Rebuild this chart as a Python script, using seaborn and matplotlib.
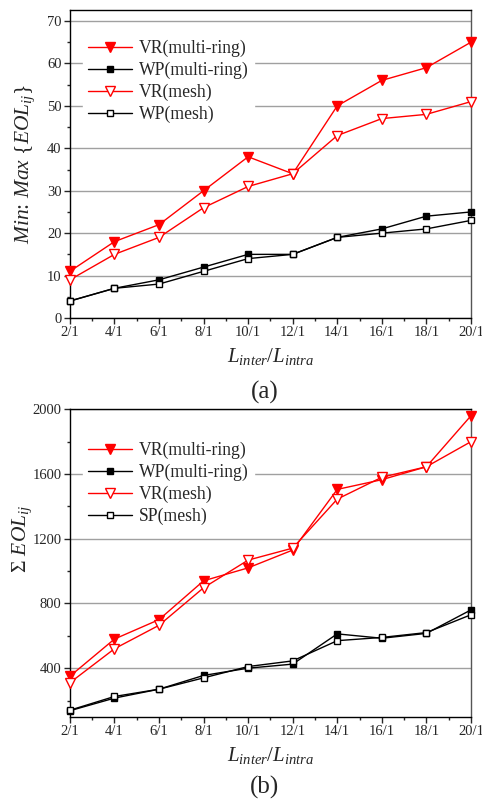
import matplotlib
matplotlib.use('Agg')
import matplotlib.pyplot as plt
import seaborn as sns
import pandas as pd
from matplotlib.ticker import MultipleLocator

sns.set_style('ticks')
plt.rcParams['font.family'] = ['Liberation Serif', 'DejaVu Serif']
plt.rcParams['mathtext.fontset'] = 'custom'
plt.rcParams['mathtext.rm'] = 'Liberation Serif'
plt.rcParams['mathtext.it'] = 'Liberation Serif:italic'

# data
ratio = [2, 4, 6, 8, 10, 12, 14, 16, 18, 20]
tick_labels = ['2/1', '4/1', '6/1', '8/1', '10/1', '12/1', '14/1', '16/1', '18/1', '20/1']

# (a) Min: Max {EOL_ij}
a_vr_ring = [11, 18, 22, 30, 38, 34, 50, 56, 59, 65]
a_wp_ring = [4, 7, 9, 12, 15, 15, 19, 21, 24, 25]
a_vr_mesh = [9, 15, 19, 26, 31, 34, 43, 47, 48, 51]
a_wp_mesh = [4, 7, 8, 11, 14, 15, 19, 20, 21, 23]

# (b) sum EOL_ij
b_vr_ring = [350, 580, 700, 940, 1020, 1130, 1505, 1565, 1645, 1960]
b_wp_ring = [137, 215, 270, 355, 400, 425, 612, 585, 615, 760]
b_vr_mesh = [310, 520, 665, 897, 1068, 1142, 1445, 1580, 1645, 1800]
b_sp_mesh = [140, 225, 270, 340, 410, 445, 570, 590, 620, 730]

styles = [
    dict(color='#ff0000', marker='v', mfc='#ff0000', mec='#ff0000', ms=7),
    dict(color='black', marker='s', mfc='black', mec='black', ms=5),
    dict(color='#ff0000', marker='v', mfc='white', mec='#ff0000', ms=7),
    dict(color='black', marker='s', mfc='white', mec='black', ms=5),
]


def draw(ax, series, names, ylim, major, minor, ylabel, label_xy, legend_y):
    for vals, name, st in zip(series, names, styles):
        df = pd.DataFrame({'x': ratio, 'y': vals})
        sns.lineplot(data=df, x='x', y='y', ax=ax, label=name, color=st['color'],
                     marker=st['marker'], markersize=st['ms'],
                     markerfacecolor=st['mfc'], markeredgecolor=st['mec'],
                     markeredgewidth=1, linewidth=1, clip_on=False, zorder=3)
    ax.set_xlim(2, 20)
    ax.set_ylim(*ylim)
    ax.set_xticks(ratio)
    ax.set_xticklabels(tick_labels)
    ax.xaxis.set_minor_locator(MultipleLocator(1))
    ax.yaxis.set_major_locator(MultipleLocator(major))
    ax.yaxis.set_minor_locator(MultipleLocator(minor))
    ax.tick_params(axis='both', which='major', direction='out', length=4, width=1,
                   labelsize=10.5, pad=2)
    ax.tick_params(axis='both', which='minor', direction='out', length=2.5, width=1)
    ax.grid(axis='y', which='major', color='#a0a0a0', linewidth=1)
    ax.set_axisbelow(True)
    for s in ax.spines.values():
        s.set_visible(True)
        s.set_linewidth(1)
        s.set_color('black')
    ax.spines['right'].set_color('#555555')
    ax.set_xlabel(r'$L_{inter}/L_{intra}$', fontsize=15, labelpad=5)
    ax.set_ylabel(ylabel, fontsize=15.5)
    ax.yaxis.set_label_coords(*label_xy)
    leg = ax.legend(loc='upper left', bbox_to_anchor=(0.01, legend_y), frameon=True,
                    fontsize=12.7, handlelength=2.5, handletextpad=0.4,
                    labelspacing=0.27, borderpad=0.3)
    leg.get_frame().set_facecolor('white')
    leg.get_frame().set_edgecolor('white')
    leg.get_frame().set_alpha(1)


fig = plt.figure(figsize=(4.82, 7.99), dpi=100)
ax1 = fig.add_axes([0.145, 0.602, 0.832, 0.3855])
ax2 = fig.add_axes([0.145, 0.103, 0.832, 0.3847])

draw(ax1, [a_vr_ring, a_wp_ring, a_vr_mesh, a_wp_mesh],
     ['VR(multi-ring)', 'WP(multi-ring)', 'VR(mesh)', 'WP(mesh)'],
     (0, 72.6), 10, 5, r'$Min$: $Max$ {$EOL_{ij}$}', (-0.082, 0.5), 0.95)
draw(ax2, [b_vr_ring, b_wp_ring, b_vr_mesh, b_sp_mesh],
     ['VR(multi-ring)', 'WP(multi-ring)', 'VR(mesh)', 'SP(mesh)'],
     (100, 2000), 400, 200, r'$\Sigma$ $EOL_{ij}$', (-0.09, 0.58), 0.94)

fig.text(0.5 + 0.145 / 2 - 0.023, 0.509, '(a)', ha='center', va='center', fontsize=18)
fig.text(0.5 + 0.145 / 2 - 0.023, 0.015, '(b)', ha='center', va='center', fontsize=18)

fig.savefig('out.png', dpi=100)
